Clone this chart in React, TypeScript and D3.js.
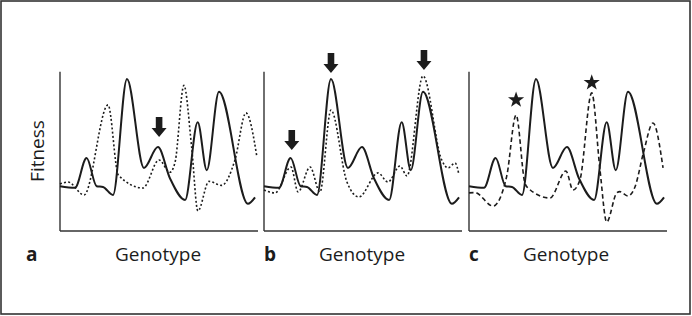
import React from "react";
import * as d3 from "d3";

// Genotype positions (0–100) and fitness values (0–100)
const solidX = [0, 7.6, 13.5, 18.6, 21.8, 26.9, 34, 42.6, 49.7, 55.8, 63.5, 69.9, 74.5, 80.7, 95.4, 99];
const solidY = [28, 27, 45.6, 28, 27.5, 22.5, 95, 39.4, 52.5, 33, 19.4, 68, 38, 87, 17, 21];

const dotAX = [0, 4.1, 12.2, 24.4, 29.6, 42.1, 50.3, 55.8, 58.4, 62.9, 66.8, 70, 75.6, 82, 88.8, 94.4, 100];
const dotAY = [29.4, 30.6, 22.5, 78.8, 35, 26.9, 44.4, 36.7, 42.9, 91, 52.7, 12.5, 31, 28.5, 44.4, 73.8, 46];

const dotBX = [0, 5.6, 13.7, 17.3, 23.4, 28.4, 34, 42.1, 48.2, 57.9, 62.9, 69, 72.6, 80.7, 90.2, 93.4, 97, 99];
const dotBY = [25.6, 23.8, 40, 24.4, 40, 24.4, 75.6, 30.6, 21.3, 36.3, 30.6, 40.6, 34.4, 96.9, 44.4, 39.4, 42.5, 35];

const dashCX = [0, 3, 12.2, 19.1, 23.9, 28.4, 30.1, 41.1, 49.2, 52.8, 56.3, 62.3, 66.5, 69.9, 75, 76.6, 80.7, 84.3, 88.5, 93.4, 98.5];
const dashCY = [23.8, 24, 15.6, 34, 72.5, 29.8, 26.7, 20.6, 37.5, 25.6, 31.9, 86.3, 38, 5.6, 23.8, 24.6, 21.9, 27.7, 48.6, 67.5, 39.4];

// Markers: arrows (panels a, b) and stars (panel c) – [genotype, fitness]
const arrowsA = [[50.3, 58.75]];
const arrowsB = [[14.1, 50.6], [34, 98.75], [81.2, 100.6]];
const starsC = [[23.9, 81.9], [62.3, 92.7]];

const panelLetters = ["a", "b", "c"];
const xLabel = "Genotype";
const yLabel = "Fitness";

const W = 692;
const H = 316;
const ink = "#1c1c1c";

const yScale = d3.scaleLinear().domain([0, 100]).range([231, 71]);

const panels = [
  { x0: 60, dash: "2,2.2", dx: dotAX, dy: dotAY, arrows: arrowsA, stars: [] as number[][] },
  { x0: 264, dash: "2,2.2", dx: dotBX, dy: dotBY, arrows: arrowsB, stars: [] as number[][] },
  { x0: 469, dash: "4.5,3", dx: dashCX, dy: dashCY, arrows: [] as number[][], stars: starsC },
];
const panelW = 197;

function toPts(xs: number[], ys: number[]) {
  return xs.map((x, i) => [x, ys[i]] as [number, number]);
}

function arrowPath(cx: number, tipY: number) {
  const sw = 3.3, hw = 7.5, hh = 9, total = 20;
  const top = tipY - total;
  const neck = tipY - hh;
  return `M${cx - sw},${top} L${cx + sw},${top} L${cx + sw},${neck} L${cx + hw},${neck} L${cx},${tipY} L${cx - hw},${neck} L${cx - sw},${neck} Z`;
}

function starPath(cx: number, cy: number, R: number, r: number) {
  const pts: string[] = [];
  for (let i = 0; i < 10; i++) {
    const rad = i % 2 === 0 ? R : r;
    const a = -Math.PI / 2 + (i * Math.PI) / 5;
    pts.push(`${cx + rad * Math.cos(a)},${cy + rad * Math.sin(a)}`);
  }
  return "M" + pts.join("L") + "Z";
}

export default function App() {
  return (
    <svg
      width={W}
      height={H}
      style={{ position: "absolute", left: 0, top: 0, background: "#fff" }}
      fontFamily="'Open Sans', 'Noto Sans', sans-serif"
    >
      <rect x={1} y={1} width={689} height={313} fill="#fff" stroke="#333" strokeWidth={1.6} />
      <text
        transform={`translate(44,151) rotate(-90)`}
        textAnchor="middle"
        fontSize={19}
        fill={ink}
      >
        {yLabel}
      </text>
      {panels.map((p, pi) => {
        const x = d3.scaleLinear().domain([0, 100]).range([p.x0, p.x0 + panelW]);
        const line = d3
          .line<[number, number]>()
          .x((d) => x(d[0]))
          .y((d) => yScale(d[1]))
          .curve(d3.curveMonotoneX);
        return (
          <g key={pi}>
            <line x1={x(0)} x2={x(0)} y1={yScale(99.5)} y2={yScale(0)} stroke="#333" strokeWidth={1.4} />
            <line x1={x(0)} x2={x(100) + 1} y1={yScale(0)} y2={yScale(0)} stroke="#333" strokeWidth={1.4} />
            <path d={line(toPts(p.dx, p.dy)) || ""} fill="none" stroke={ink} strokeWidth={1.6} strokeDasharray={p.dash} />
            <path d={line(toPts(solidX, solidY)) || ""} fill="none" stroke={ink} strokeWidth={2} />
            {p.arrows.map((a, i) => (
              <path key={i} d={arrowPath(x(a[0]), yScale(a[1]))} fill={ink} />
            ))}
            {p.stars.map((s, i) => (
              <path key={i} d={starPath(x(s[0]), yScale(s[1]), 8.5, 3.4)} fill={ink} />
            ))}
            <text x={[26, 264, 469][pi]} y={261} fontSize={19} fontWeight="bold" fill={ink}>
              {panelLetters[pi]}
            </text>
            <text x={[158, 362, 566][pi]} y={261} fontSize={19} textAnchor="middle" fill={ink}>
              {xLabel}
            </text>
          </g>
        );
      })}
    </svg>
  );
}
